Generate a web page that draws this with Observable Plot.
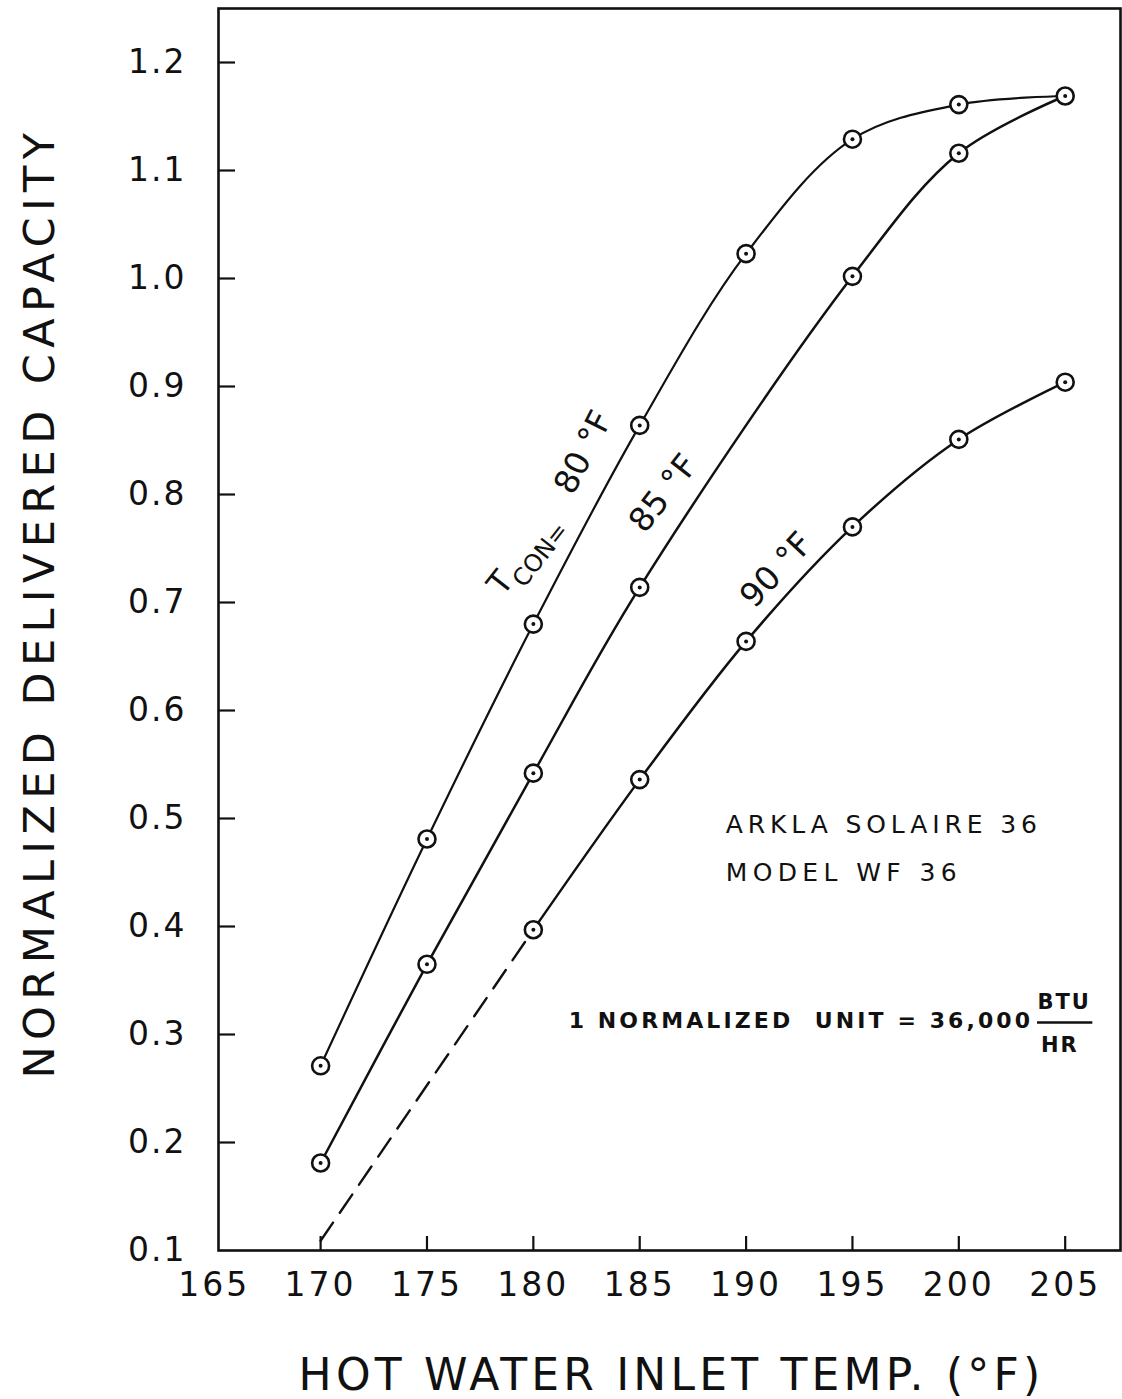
<!DOCTYPE html>
<html><head><meta charset="utf-8">
<script src="https://cdn.jsdelivr.net/npm/d3@7"></script>
<script src="https://cdn.jsdelivr.net/npm/@observablehq/plot@0.6"></script>
<style>body{margin:0;background:#fff} svg{display:block}</style>
</head><body><div id="chart"></div>
<script>
// Data
const temps80 = [170, 175, 180, 185, 190, 195, 200, 205];
const cap80   = [0.271, 0.481, 0.680, 0.864, 1.023, 1.129, 1.161, 1.169];
const temps85 = [170, 175, 180, 185, 195, 200, 205];
const cap85   = [0.181, 0.365, 0.542, 0.714, 1.002, 1.116, 1.169];
const temps90 = [180, 185, 190, 195, 200, 205];
const cap90   = [0.397, 0.536, 0.664, 0.770, 0.851, 0.904];
const dashTemps = [170, 180];
const dashCap   = [0.109, 0.397];
const xTicks = [165, 170, 175, 180, 185, 190, 195, 200, 205];
const yTicks = [0.1, 0.2, 0.3, 0.4, 0.5, 0.6, 0.7, 0.8, 0.9, 1.0, 1.1, 1.2];
const curveLabels = [
  {x: 178.46, y: 0.718, text: "T", rotate: -52, size: 32},
  {x: 180.34, y: 0.744, text: "CON=", rotate: -52, size: 24},
  {x: 182.36, y: 0.839, text: "80 °F", rotate: -63, size: 33},
  {x: 186.12, y: 0.801, text: "85 °F", rotate: -52, size: 33},
  {x: 191.43, y: 0.730, text: "90 °F", rotate: -47, size: 33}
];
const notes = [
  {x: 189.04, y: 0.494, text: "ARKLA SOLAIRE 36"},
  {x: 189.04, y: 0.450, text: "MODEL WF 36"}
];
const unitNote = {x: 181.66, y: 0.313, text: "1 NORMALIZED  UNIT = 36,000"};
const fraction = [
  {x: 204.95, y: 0.330, text: "BTU"},
  {x: 204.75, y: 0.290, text: "HR"}
];
const fractionBar = [{x1: 203.7, x2: 206.3, y: 0.311}];
const yTitle = "NORMALIZED DELIVERED CAPACITY";
const xTitle = "HOT WATER INLET TEMP. (°F)";

const s80 = temps80.map((t, i) => ({t, c: cap80[i]}));
const s85 = temps85.map((t, i) => ({t, c: cap85[i]}));
const s90 = temps90.map((t, i) => ({t, c: cap90[i]}));
const sDash = dashTemps.map((t, i) => ({t, c: dashCap[i]}));
const allPts = [...s80, ...s85.slice(0, -1), ...s90];

const W = 1122, H = 1399, mT = 8, mL = 218, mR = 2, mB = 149;
const innerW = W - mL - mR, innerH = H - mT - mB;

const chart = Plot.plot({
  width: W, height: H,
  marginTop: mT, marginLeft: mL, marginRight: mR, marginBottom: mB,
  style: {fontFamily: "DejaVu Sans", color: "#111", background: "#fff"},
  x: {domain: [165.2, 207.6]},
  y: {domain: [0.1, 1.25]},
  marks: [
    Plot.frame({stroke: "#111", strokeWidth: 2.6}),
    Plot.axisX({ticks: xTicks, tickSize: 0, tickPadding: 22, fontSize: 33, label: null, tickFormat: d => String(d)}),
    Plot.axisY({ticks: yTicks, tickSize: 0, tickPadding: 32, fontSize: 33, label: null, tickFormat: d => d.toFixed(1)}),
    Plot.tickX(xTicks.slice(1), {x: d => d, insetTop: innerH - 14, stroke: "#111", strokeWidth: 2.2}),
    Plot.tickY(yTicks.slice(1), {y: d => d, insetRight: innerW - 17, stroke: "#111", strokeWidth: 2.2}),
    Plot.line(sDash, {x: "t", y: "c", stroke: "#111", strokeWidth: 2.4, strokeDasharray: "22,12"}),
    Plot.line(s80, {x: "t", y: "c", curve: "catmull-rom", stroke: "#111", strokeWidth: 2.2}),
    Plot.line(s85, {x: "t", y: "c", curve: "catmull-rom", stroke: "#111", strokeWidth: 2.5}),
    Plot.line(s90, {x: "t", y: "c", curve: "catmull-rom", stroke: "#111", strokeWidth: 2.5}),
    Plot.dot(allPts, {x: "t", y: "c", r: 8.5, fill: "#fff", stroke: "#111", strokeWidth: 2.6}),
    Plot.dot(allPts, {x: "t", y: "c", r: 2, fill: "#111"}),
    ...curveLabels.map(l => Plot.text([l], {x: "x", y: "y", text: "text", rotate: l.rotate, fontSize: l.size, fill: "#111"})),
    Plot.text(notes, {x: "x", y: "y", text: "text", textAnchor: "start", fontSize: 25, fill: "#111"}),
    Plot.text([unitNote], {x: "x", y: "y", text: "text", textAnchor: "start", fontSize: 22, fontWeight: "bold", fill: "#111"}),
    Plot.text(fraction, {x: "x", y: "y", text: "text", fontSize: 21, fontWeight: "bold", fill: "#111"}),
    Plot.ruleY(fractionBar, {y: "y", x1: "x1", x2: "x2", stroke: "#111", strokeWidth: 2.5}),
    Plot.text([yTitle], {frameAnchor: "left", textAnchor: "middle", dx: -178, dy: -27, rotate: -90, fontSize: 43, fill: "#111"}),
    Plot.text([xTitle], {frameAnchor: "bottom", textAnchor: "middle", dx: 2, dy: 139, fontSize: 44, fill: "#111"})
  ]
});
const spacing = new Map([
  [yTitle, 6.4], [xTitle, 4.2],
  ["ARKLA SOLAIRE 36", 4.9], ["MODEL WF 36", 5.4],
  [unitNote.text, 3.1], ["BTU", 2], ["HR", 2]
]);
d3.select(chart).selectAll("text").each(function () {
  const t = this.textContent;
  if (spacing.has(t)) {
    this.setAttribute("letter-spacing", spacing.get(t));
    this.style.whiteSpace = "pre";
  }
});
d3.select(chart).selectAll('g[aria-label="x-axis tick label"] text').attr("letter-spacing", "3");
d3.select(chart).selectAll('g[aria-label="y-axis tick label"] text').attr("letter-spacing", "2");
document.getElementById("chart").appendChild(chart);
</script>
</body></html>
